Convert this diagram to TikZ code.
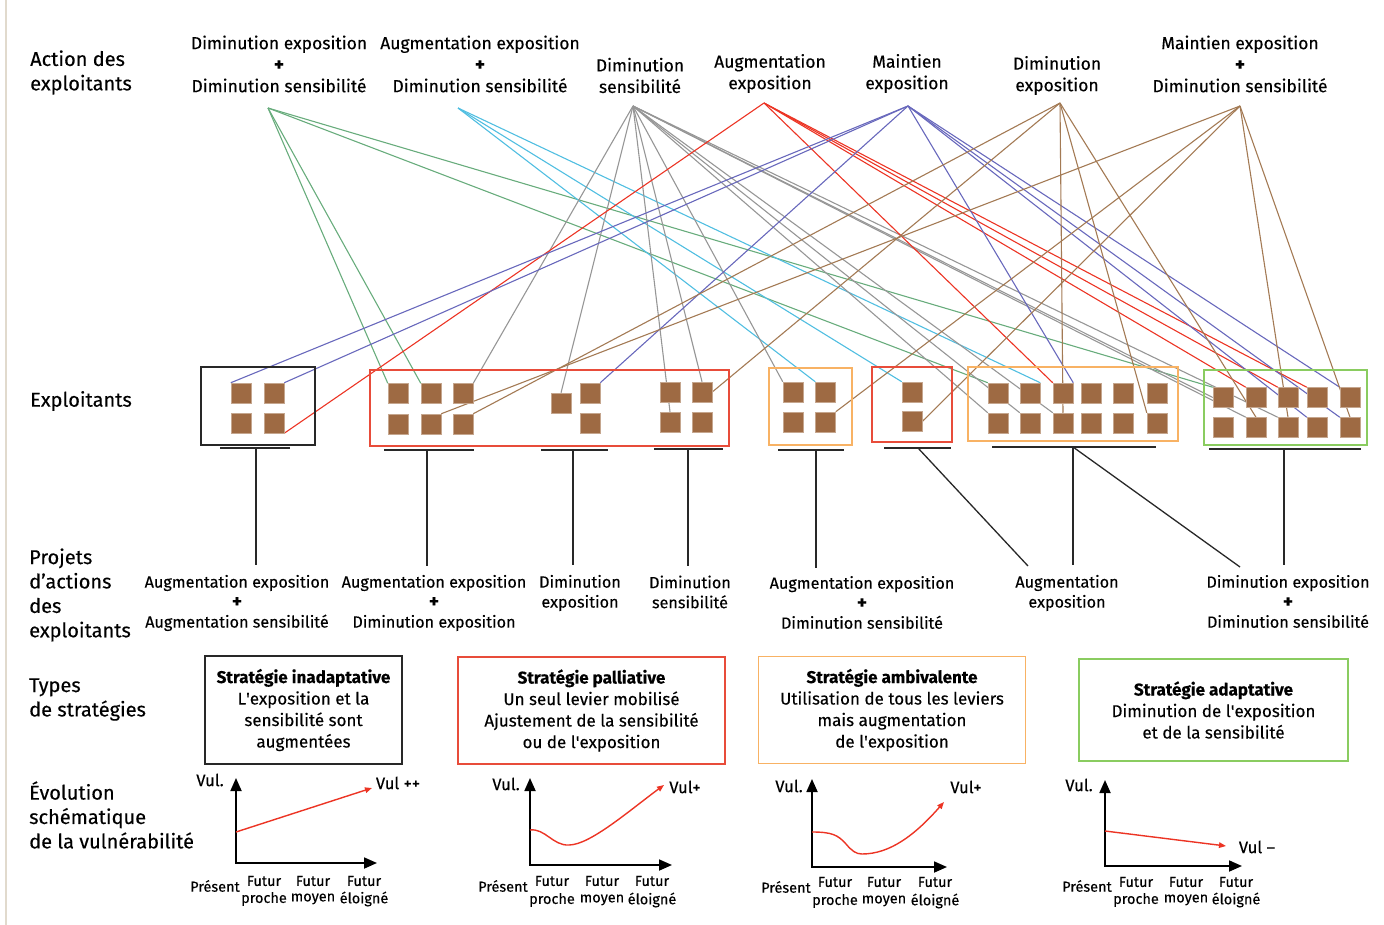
\documentclass[tikz,border=0pt]{standalone}
\usepackage{fontspec}
\setmainfont{Fira Sans}[FakeBold=0.25]
\usetikzlibrary{arrows.meta}
\pgfdeclarelayer{bg}
\pgfsetlayers{bg,main}

\definecolor{sqbrown}{RGB}{158,106,67}
\definecolor{lgreen}{RGB}{104,172,124}
\definecolor{lcyan}{RGB}{80,190,225}
\definecolor{lgray}{RGB}{150,150,150}
\definecolor{lred}{RGB}{236,52,36}
\definecolor{lblue}{RGB}{104,104,188}
\definecolor{lbrown}{RGB}{163,122,84}
\definecolor{borange}{RGB}{248,178,100}
\definecolor{bgreen}{RGB}{138,204,96}
\definecolor{bred}{RGB}{232,76,58}
\definecolor{bblack}{RGB}{40,40,40}
\definecolor{edgegray}{RGB}{225,218,205}
\newcommand{\pl}{{\fontsize{19}{19}\selectfont\textbf{+}}}

\begin{document}
\begin{tikzpicture}[x=1pt,y=-1pt,
  sq/.style={fill=sqbrown,draw=sqbrown!60!white,line width=0.5pt,minimum width=20pt,minimum height=20pt,inner sep=0pt},
  grp/.style={line width=1.5pt},
  link/.style={line width=1.1pt},
  toplbl/.style={font=\fontsize{17.5}{21.5}\selectfont,align=center,inner sep=0pt},
  sidelbl/.style={font=\fontsize{20}{24.4}\selectfont,align=left,anchor=west,inner sep=0pt},
  projlbl/.style={font=\fontsize{16.2}{20}\selectfont,align=center,inner sep=0pt},
  stratbox/.style={draw,line width=1.7pt,font=\fontsize{17}{21.5}\selectfont,align=center,inner sep=0pt},
  ulin/.style={line width=1.8pt,draw=bblack},
  stem/.style={line width=1.3pt,draw=bblack},
  axes/.style={line width=1.8pt,{Triangle[length=13pt,width=11pt]}-{Triangle[length=13pt,width=11pt]}},
  vcurve/.style={draw=lred,line width=1.4pt,-{Triangle[length=7pt,width=5.5pt]}},
  chl/.style={font=\fontsize{14.5}{17}\selectfont,inner sep=0pt},
  vull/.style={font=\fontsize{16.5}{18}\selectfont,inner sep=0pt},
]
\useasboundingbox (0,0) rectangle (1384,925);
\draw[edgegray,line width=1.5pt] (6,0) -- (6,925);

% ---------- left labels
\node[sidelbl] (lab1) at (30,72.5) {Action des\\exploitants};
\node[sidelbl] (lab2) at (30,401) {Exploitants};
\node[sidelbl] (lab3) at (29,595) {Projets\\d’actions\\des\\exploitants};
\node[sidelbl] (lab4) at (29,699.5) {Types\\de stratégies};
\node[sidelbl] (lab5) at (29,815) {Évolution\\schématique\\de la vulnérabilité};

% ---------- top action labels
\node[toplbl] (a1) at (279,64) {Diminution exposition\\\pl\\Diminution sensibilité};
\node[toplbl] (a2) at (480,64) {Augmentation exposition\\\pl\\Diminution sensibilité};
\node[toplbl] (a3) at (640,75.5) {Diminution\\sensibilité};
\node[toplbl] (a4) at (770,73.5) {Augmentation\\exposition};
\node[toplbl] (a5) at (907,73.5) {Maintien\\exposition};
\node[toplbl] (a6) at (1057,75.5) {Diminution\\exposition};
\node[toplbl] (a7) at (1240,64) {Maintien exposition\\\pl\\Diminution sensibilité};

\coordinate (oA1) at (268,108);
\coordinate (oA2) at (458,108);
\coordinate (oA3) at (633,106);
\coordinate (oA4) at (764,103);
\coordinate (oA5) at (908,106);
\coordinate (oA6) at (1060,103);
\coordinate (oA7) at (1240,106);

% ---------- group frames
\draw[grp,bblack] (201,367) rectangle (315,445);
\draw[grp,bred] (370,370) rectangle (729,446);
\draw[grp,borange] (769,368) rectangle (852,445);
\draw[grp,bred] (872,367) rectangle (952,442);
\draw[grp,borange] (968,367) rectangle (1178,441);
\draw[grp,bgreen] (1204,370) rectangle (1367,445);

% ---------- squares
\node[sq] (g1a) at (241,393) {};
\node[sq] (g1b) at (274,393) {};
\node[sq] (g1c) at (241,423) {};
\node[sq] (g1d) at (274,423) {};
\node[sq] (g2a1) at (398,393.5) {};
\node[sq] (g2a2) at (431,393.5) {};
\node[sq] (g2a3) at (463,393.5) {};
\node[sq] (g2a4) at (398,424) {};
\node[sq] (g2a5) at (431,424) {};
\node[sq] (g2a6) at (463,424) {};
\node[sq] (g2b1) at (561,403) {};
\node[sq] (g2b2) at (590,393) {};
\node[sq] (g2b3) at (590,423) {};
\node[sq] (g2c1) at (670,392) {};
\node[sq] (g2c2) at (702,392) {};
\node[sq] (g2c3) at (670,422) {};
\node[sq] (g2c4) at (702,422) {};
\node[sq] (g3a) at (793,392) {};
\node[sq] (g3b) at (825.5,392) {};
\node[sq] (g3c) at (793,422) {};
\node[sq] (g3d) at (825.5,422) {};
\node[sq] (g4a) at (912,392) {};
\node[sq] (g4b) at (912,421.5) {};
\foreach \i/\x in {1/998,2/1030,3/1063,4/1091,5/1123,6/1157}{
  \node[sq] (g5t\i) at (\x,393) {};
  \node[sq] (g5b\i) at (\x,423) {};
}
\foreach \i/\x in {1/1223,2/1256,3/1288,4/1317,5/1350}{
  \node[sq] (g6t\i) at (\x,397.5) {};
  \node[sq] (g6b\i) at (\x,427.5) {};
}

% ---------- links (behind squares)
\begin{pgfonlayer}{bg}
\foreach \t in {g2a1.north west,g2a2.north west,g5t1.north west,g6t1.north west}
  \draw[link,lgreen] (oA1) -- (\t);
\foreach \t in {g3b.north west,g4a.north west,g5t2.north east}
  \draw[link,lcyan] (oA2) -- (\t);
\foreach \t in {g2a3.north east,g2b1.north,g2c3.north,g2c2.north,g3a.north west,g5b1.north west,g5b2.north west,g5b3.north west,g6t1.west,g6b2.north west,g6b3.north west}
  \draw[link,lgray] (oA3) -- (\t);
\foreach \t in {g1d.south east,g5t3.north west,g6t2.north west,g6t3.north west,g6t4.north west}
  \draw[link,lred] (oA4) -- (\t);
\foreach \t in {g1a.north west,g1b.north east,g2b2.north east,g5t3.north east,g6b4.north west,g6t5.north west,g6b5.north west}
  \draw[link,lblue] (oA5) -- (\t);
\foreach \t in {g2a6.north east,g2c2.east,g5b3.north,g5b6.north west,g6b2.north}
  \draw[link,lbrown] (oA6) -- (\t);
\foreach \t in {g2a5.north east,g3d.north east,g4b.east,g6b3.north,g6b5.north}
  \draw[link,lbrown] (oA7) -- (\t);
\end{pgfonlayer}

% ---------- underlines and stems
\coordinate (u1l) at (220,448); \coordinate (u1r) at (290,448);
\coordinate (u2l) at (384,450); \coordinate (u2r) at (474,450);
\coordinate (u3l) at (541,450); \coordinate (u3r) at (608,450);
\coordinate (u4l) at (654,449); \coordinate (u4r) at (723,449);
\coordinate (u5l) at (778,450); \coordinate (u5r) at (844,450);
\coordinate (u6l) at (884,448); \coordinate (u6r) at (951,448);
\coordinate (u7l) at (992,447); \coordinate (u7r) at (1156,447);
\coordinate (u8l) at (1209,449); \coordinate (u8r) at (1361,449);
\foreach \k in {1,...,8} \draw[ulin] (u\k l) -- (u\k r);

\coordinate (s1t) at (256,448);  \coordinate (s1b) at (256,565);
\coordinate (s2t) at (427,450);  \coordinate (s2b) at (427,566);
\coordinate (s3t) at (573,450);  \coordinate (s3b) at (573,565);
\coordinate (s4t) at (688,449);  \coordinate (s4b) at (688,566);
\coordinate (s5t) at (816,450);  \coordinate (s5b) at (816,568);
\coordinate (s6t) at (918,448);  \coordinate (s6b) at (1028,566);
\coordinate (s7t) at (1073,447); \coordinate (s7b) at (1073,565);
\coordinate (s8b) at (1240,567);
\coordinate (s9t) at (1284,449); \coordinate (s9b) at (1284,565);
\foreach \k in {1,...,7,9} \draw[stem] (s\k t) -- (s\k b);
\draw[stem] (s7t) -- (s8b);

% ---------- project labels
\node[projlbl] (p1) at (237,603) {Augmentation exposition\\\pl\\Augmentation sensibilité};
\node[projlbl] (p2) at (434,603) {Augmentation exposition\\\pl\\Diminution exposition};
\node[projlbl] (p3) at (580,593) {Diminution\\exposition};
\node[projlbl] (p4) at (690,592) {Diminution\\sensibilité};
\node[projlbl] (p5) at (862,602.5) {Augmentation exposition\\\pl\\Diminution sensibilité};
\node[projlbl] (p6) at (1067,593) {Augmentation\\exposition};
\node[projlbl] (p7) at (1288,601.5) {Diminution exposition\\\pl\\Diminution sensibilité};

% ---------- strategy boxes
\node[stratbox,draw=bblack,minimum width=197pt,minimum height=108pt] (st1) at (303.5,710)
  {\textbf{Stratégie inadaptative}\\L\textquotesingle exposition et la\\sensibilité sont\\augmentées};
\node[stratbox,draw=bred,minimum width=267pt,minimum height=107pt] (st2) at (591.5,710.5)
  {\textbf{Stratégie palliative}\\Un seul levier mobilisé\\Ajustement de la sensibilité\\ou de l\textquotesingle exposition};
\node[stratbox,draw=borange,minimum width=267pt,minimum height=107pt] (st3) at (892,710)
  {\textbf{Stratégie ambivalente}\\Utilisation de tous les leviers\\mais augmentation\\de l\textquotesingle exposition};
\node[stratbox,draw=bgreen,minimum width=269pt,minimum height=102pt] (st4) at (1213.5,710)
  {\textbf{Stratégie adaptative}\\Diminution de l\textquotesingle exposition\\et de la sensibilité};

% ---------- chart 1
\coordinate (c1o) at (236,863); \coordinate (c1y) at (236,778); \coordinate (c1x) at (377,863);
\draw[axes] (c1y) -- (c1o) -- (c1x);
\coordinate (c1s) at (236,832); \coordinate (c1e) at (372,788);
\draw[vcurve] (c1s) -- (c1e);
\node[vull] (c1v) at (210,780) {Vul.};
\node[vull] (c1r) at (398,783) {Vul ++};
\node[chl] (c1p) at (215,886) {Présent};
\node[chl] (c1f1) at (264,881) {Futur};
\node[chl] (c1f2) at (313,881) {Futur};
\node[chl] (c1f3) at (364,881) {Futur};
\node[chl] (c1g1) at (264,899) {proche};
\node[chl] (c1g2) at (313,899) {moyen};
\node[chl] (c1g3) at (364,899) {éloigné};

% ---------- chart 2
\coordinate (c2o) at (530,865); \coordinate (c2y) at (530,778); \coordinate (c2x) at (672,865);
\draw[axes] (c2y) -- (c2o) -- (c2x);
\coordinate (c2s) at (530,830); \coordinate (c2m) at (569,845); \coordinate (c2e) at (664,785);
\draw[vcurve] (c2s) .. controls (545,828) and (553,846) .. (c2m) .. controls (590,845) and (630,810) .. (c2e);
\node[vull] (c2v) at (506,784) {Vul.};
\node[vull] (c2r) at (685,787) {Vul+};
\node[chl] (c2p) at (503,886) {Présent};
\node[chl] (c2f1) at (552,881) {Futur};
\node[chl] (c2f2) at (602,881) {Futur};
\node[chl] (c2f3) at (652,881) {Futur};
\node[chl] (c2g1) at (552,900) {proche};
\node[chl] (c2g2) at (602,900) {moyen};
\node[chl] (c2g3) at (652,900) {éloigné};

% ---------- chart 3
\coordinate (c3o) at (812,867); \coordinate (c3y) at (812,779); \coordinate (c3x) at (947,867);
\draw[axes] (c3y) -- (c3o) -- (c3x);
\coordinate (c3s) at (812,832); \coordinate (c3m) at (862,854); \coordinate (c3e) at (944,802);
\draw[vcurve] (c3s) .. controls (832,832) and (838,835) .. (846,844) .. controls (852,851) and (856,854) .. (c3m) .. controls (890,854) and (915,835) .. (c3e);
\node[vull] (c3v) at (789,786) {Vul.};
\node[vull] (c3r) at (966,787) {Vul+};
\node[chl] (c3p) at (786,887) {Présent};
\node[chl] (c3f1) at (835,882) {Futur};
\node[chl] (c3f2) at (884,882) {Futur};
\node[chl] (c3f3) at (935,882) {Futur};
\node[chl] (c3g1) at (835,901) {proche};
\node[chl] (c3g2) at (884,901) {moyen};
\node[chl] (c3g3) at (935,901) {éloigné};

% ---------- chart 4
\coordinate (c4o) at (1105,866); \coordinate (c4y) at (1105,780); \coordinate (c4x) at (1242,866);
\draw[axes] (c4y) -- (c4o) -- (c4x);
\coordinate (c4s) at (1105,831); \coordinate (c4e) at (1226,846);
\draw[vcurve] (c4s) -- (c4e);
\node[vull] (c4v) at (1079,785) {Vul.};
\node[vull] (c4r) at (1257,847) {Vul –};
\node[chl] (c4p) at (1087,886) {Présent};
\node[chl] (c4f1) at (1136,882) {Futur};
\node[chl] (c4f2) at (1186,882) {Futur};
\node[chl] (c4f3) at (1236,882) {Futur};
\node[chl] (c4g1) at (1136,900) {proche};
\node[chl] (c4g2) at (1186,900) {moyen};
\node[chl] (c4g3) at (1236,900) {éloigné};
\end{tikzpicture}
\end{document}
